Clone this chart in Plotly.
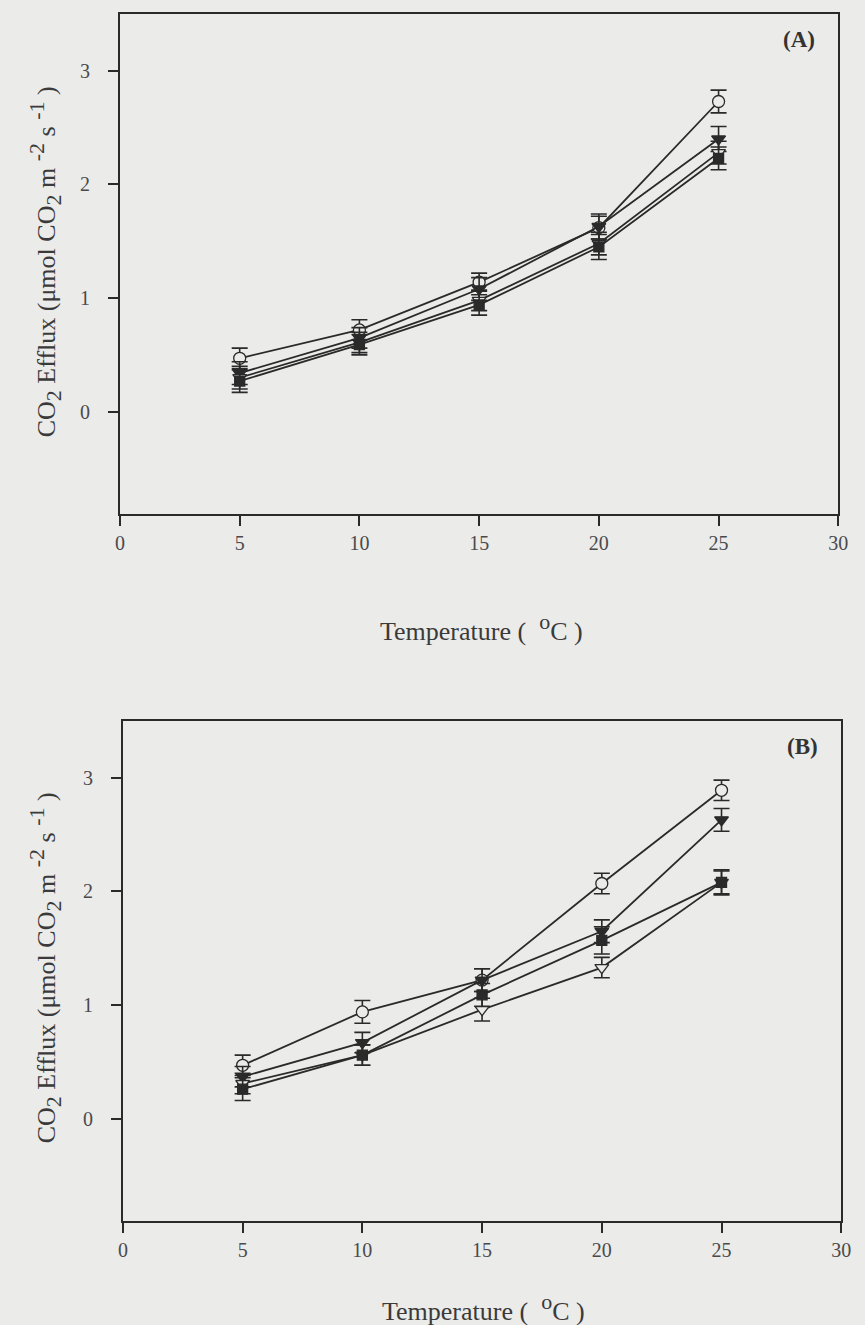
import plotly.graph_objects as go

# Temperature steps (°C)
temperature = [5, 10, 15, 20, 25]

# Panel A: mean CO2 efflux and standard errors
a_open_circle = [0.47, 0.72, 1.14, 1.62, 2.73]
a_open_circle_err = [0.09, 0.09, 0.08, 0.10, 0.10]
a_filled_tri = [0.34, 0.65, 1.08, 1.63, 2.40]
a_filled_tri_err = [0.10, 0.09, 0.10, 0.11, 0.11]
a_open_tri = [0.30, 0.61, 0.98, 1.48, 2.28]
a_open_tri_err = [0.10, 0.09, 0.09, 0.10, 0.10]
a_filled_sq = [0.27, 0.59, 0.94, 1.45, 2.23]
a_filled_sq_err = [0.10, 0.09, 0.09, 0.11, 0.10]

# Panel B: mean CO2 efflux and standard errors
b_open_circle = [0.47, 0.94, 1.22, 2.07, 2.89]
b_open_circle_err = [0.09, 0.10, 0.10, 0.09, 0.09]
b_filled_tri = [0.37, 0.67, 1.22, 1.65, 2.63]
b_filled_tri_err = [0.09, 0.09, 0.10, 0.10, 0.10]
b_open_tri = [0.31, 0.56, 0.96, 1.33, 2.08]
b_open_tri_err = [0.09, 0.09, 0.10, 0.09, 0.10]
b_filled_sq = [0.26, 0.56, 1.09, 1.57, 2.08]
b_filled_sq_err = [0.10, 0.09, 0.10, 0.12, 0.11]

x_ticks = [0, 5, 10, 15, 20, 25, 30]
y_ticks = [0, 1, 2, 3]

BG = "#ebebea"
INK = "#2a2a2a"
FONT = "Liberation Serif, Times New Roman, serif"

W, H = 865, 1325

fig = go.Figure()

series_style = [
    ("circle-open", 12, BG),
    ("triangle-down", 12, INK),
    ("triangle-down-open", 12, BG),
    ("square", 10, INK),
]


def add_panel(values, errors, xa, ya):
    for (sym, size, fill), y, e in zip(series_style, values, errors):
        open_marker = sym.endswith("-open")
        fig.add_trace(go.Scatter(
            x=temperature, y=y, xaxis=xa, yaxis=ya,
            mode="lines+markers",
            line=dict(color=INK, width=1.8),
            marker=dict(
                symbol=sym.replace("-open", "") if open_marker else sym,
                size=size,
                color=fill,
                line=dict(color=INK, width=1.3),
            ),
            error_y=dict(type="data", array=e, visible=True,
                         color=INK, thickness=1.6, width=8),
            showlegend=False,
        ))


add_panel([a_open_circle, a_filled_tri, a_open_tri, a_filled_sq],
          [a_open_circle_err, a_filled_tri_err, a_open_tri_err, a_filled_sq_err],
          "x", "y")
add_panel([b_open_circle, b_filled_tri, b_open_tri, b_filled_sq],
          [b_open_circle_err, b_filled_tri_err, b_open_tri_err, b_filled_sq_err],
          "x2", "y2")


def px_x(p):
    return p / W


def px_y(p):
    return 1 - p / H


axis_common = dict(
    showgrid=False, zeroline=False, showline=True, linecolor=INK, linewidth=2,
    mirror=True, ticks="outside", ticklen=10, tickwidth=1.5, tickcolor=INK,
    tickfont=dict(family=FONT, size=20, color="#4a4a4a"),
)

fig.update_layout(
    width=W, height=H,
    margin=dict(l=0, r=0, t=0, b=0),
    paper_bgcolor=BG, plot_bgcolor=BG,
    xaxis=dict(domain=[px_x(117), px_x(848)], range=[0, 30], tickvals=x_ticks,
               anchor="y", ticklabelstandoff=0, **axis_common),
    yaxis=dict(domain=[px_y(514), px_y(14)], range=[-0.9, 3.5], tickvals=y_ticks,
               anchor="x", ticklabelstandoff=14, **axis_common),
    xaxis2=dict(domain=[px_x(120), px_x(851)], range=[0, 30], tickvals=x_ticks,
                anchor="y2", ticklabelstandoff=0, **axis_common),
    yaxis2=dict(domain=[px_y(1221), px_y(721)], range=[-0.9, 3.5], tickvals=y_ticks,
                anchor="x2", ticklabelstandoff=14, **axis_common),
)

title_font = dict(family=FONT, size=26, color="#3a3a3a")
big = '<span style="font-size:22px">{}</span>'
y_title = ("CO<sub>" + big.format("2") + "</sub> Efflux (μmol CO<sub>" + big.format("2")
           + "</sub> m <sup>" + big.format("-2") + "</sup> s <sup>" + big.format("-1")
           + "</sup> )")
x_title = "Temperature (  <sup>" + big.format("o") + "</sup>C )"

annotations = [
    dict(text=x_title, x=px_x(485), y=px_y(628), xref="paper", yref="paper",
         showarrow=False, font=title_font, xanchor="center", yanchor="middle"),
    dict(text=x_title, x=px_x(487), y=px_y(1307), xref="paper", yref="paper",
         showarrow=False, font=title_font, xanchor="center", yanchor="middle"),
    dict(text=y_title, x=px_x(40), y=px_y(262), xref="paper", yref="paper",
         showarrow=False, font=title_font, textangle=-90,
         xanchor="center", yanchor="middle"),
    dict(text=y_title, x=px_x(40), y=px_y(968), xref="paper", yref="paper",
         showarrow=False, font=title_font, textangle=-90,
         xanchor="center", yanchor="middle"),
    dict(text="<b>(A)</b>", x=px_x(808), y=px_y(40), xref="paper", yref="paper",
         showarrow=False, font=dict(family=FONT, size=23, color="#333333"),
         xanchor="center", yanchor="middle"),
    dict(text="<b>(B)</b>", x=px_x(812), y=px_y(746), xref="paper", yref="paper",
         showarrow=False, font=dict(family=FONT, size=23, color="#333333"),
         xanchor="center", yanchor="middle"),
]
fig.update_layout(annotations=annotations)

fig.write_html("out.html")
